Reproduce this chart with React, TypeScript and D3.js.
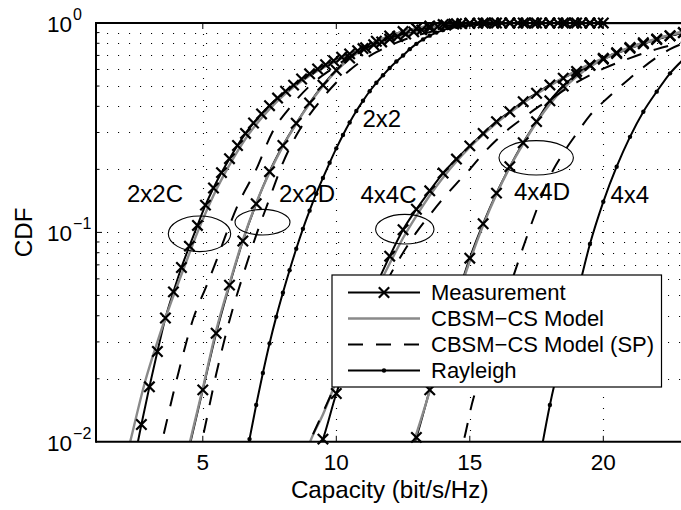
import React from "react";
import * as d3 from "d3";

type Pt = [number, number];

// Axes
const X_DOMAIN: [number, number] = [1, 23];
const Y_DOMAIN: [number, number] = [0.01, 1];
const X_TICKS = [5, 10, 15, 20];
const Y_MAJOR = [0.01, 0.1, 1];
const Y_EXP = ["\u22122", "\u22121", "0"];
const Y_MINOR = [0.02, 0.03, 0.04, 0.05, 0.06, 0.07, 0.08, 0.09, 0.2, 0.3, 0.4, 0.5, 0.6, 0.7, 0.8, 0.9];

const LEGEND_LABELS = ["Measurement", "CBSM\u2212CS Model", "CBSM\u2212CS Model (SP)", "Rayleigh"];

// Measured capacity CDFs (one marker per sample)
const meas2x2C: Pt[] = [
  [2.4, 0.0078], [2.7, 0.0121], [3.0, 0.0183], [3.3, 0.027], [3.6, 0.039], [3.9, 0.052], [4.2, 0.068],
  [4.5, 0.086], [4.8, 0.108], [5.1, 0.135], [5.4, 0.163], [5.7, 0.193], [6.0, 0.225], [6.3, 0.26],
  [6.6, 0.297], [6.9, 0.333], [7.2, 0.368], [7.5, 0.403], [7.8, 0.438], [8.1, 0.472], [8.4, 0.505],
  [8.7, 0.54], [9.0, 0.572], [9.3, 0.603], [9.6, 0.632], [9.9, 0.66], [10.2, 0.687], [10.5, 0.712],
  [10.8, 0.737], [11.1, 0.762], [11.4, 0.787], [11.7, 0.812], [12.0, 0.838], [12.3, 0.862], [12.6, 0.885],
  [12.9, 0.907], [13.2, 0.927], [13.5, 0.945], [13.8, 0.962], [14.1, 0.978], [14.4, 0.988], [14.7, 0.994],
  [15.0, 0.997], [15.3, 0.998], [15.6, 0.999], [15.9, 0.999], [16.2, 1], [16.5, 1], [16.8, 1], [17.1, 1],
  [17.4, 1], [17.7, 1], [18.0, 1], [18.3, 1], [18.6, 1], [18.9, 1], [19.2, 1], [19.5, 1], [19.8, 1],
];
const meas2x2D: Pt[] = [
  [4.5, 0.0095], [5.0, 0.0177], [5.5, 0.033], [6.0, 0.056], [6.5, 0.091], [7.0, 0.137], [7.5, 0.195],
  [8.0, 0.26], [8.5, 0.332], [9.0, 0.415], [9.5, 0.505], [10.0, 0.595], [10.5, 0.68], [11.0, 0.755],
  [11.5, 0.818], [12.0, 0.868], [12.5, 0.91], [13.0, 0.943], [13.5, 0.967], [14.0, 0.983], [14.5, 0.992],
  [15.0, 0.997], [15.5, 0.999], [16.0, 1], [16.5, 1], [17.0, 1], [17.5, 1], [18.0, 1], [18.5, 1],
  [19.0, 1], [19.5, 1], [20.0, 1],
];
const meas4x4C: Pt[] = [
  [9.0, 0.0072], [9.5, 0.0103], [10.0, 0.017], [10.5, 0.0257], [11.0, 0.04], [11.5, 0.056], [12.0, 0.077],
  [12.5, 0.103], [13.0, 0.129], [13.5, 0.158], [14.0, 0.192], [14.5, 0.224], [15.0, 0.259], [15.5, 0.297],
  [16.0, 0.338], [16.5, 0.377], [17.0, 0.421], [17.5, 0.462], [18.0, 0.506], [18.5, 0.545], [19.0, 0.587],
  [19.5, 0.628], [20.0, 0.672], [20.5, 0.715], [21.0, 0.757], [21.5, 0.795], [22.0, 0.833], [22.5, 0.868],
  [23.0, 0.9],
];
const meas4x4D: Pt[] = [
  [12.5, 0.0068], [13.0, 0.0105], [13.5, 0.0177], [14.0, 0.03], [14.5, 0.048], [15.0, 0.0753], [15.5, 0.11],
  [16.0, 0.154], [16.5, 0.206], [17.0, 0.268], [17.5, 0.338], [18.0, 0.425], [18.5, 0.5], [19.0, 0.568],
  [19.5, 0.628], [20.0, 0.678], [20.5, 0.722], [21.0, 0.765], [21.5, 0.805], [22.0, 0.84], [22.5, 0.87],
  [23.0, 0.9],
];

// CBSM-CS model CDFs
const model2x2C: Pt[] = [
  [2.0, 0.0072], [2.28, 0.01], [2.84, 0.0194], [3.3, 0.03], [3.8, 0.046], [4.3, 0.068], [4.8, 0.1],
  [5.4, 0.15], [6.0, 0.21], [6.6, 0.28], [7.2, 0.352], [7.8, 0.425], [8.4, 0.495], [9.0, 0.56], [9.6, 0.62],
  [10.2, 0.678], [10.8, 0.73], [11.4, 0.78], [12.0, 0.83], [12.6, 0.876], [13.2, 0.918], [13.8, 0.953],
  [14.4, 0.978], [15.0, 0.992], [15.6, 0.998], [16.5, 1], [23.0, 1],
];
const model2x2D: Pt[] = [
  [4.3, 0.0075], [4.52, 0.01], [5.0, 0.018], [5.5, 0.034], [6.0, 0.057], [6.5, 0.092], [7.0, 0.138],
  [7.5, 0.193], [8.0, 0.258], [8.5, 0.33], [9.0, 0.412], [9.5, 0.5], [10.0, 0.59], [10.5, 0.675],
  [11.0, 0.75], [11.5, 0.815], [12.0, 0.868], [12.5, 0.91], [13.0, 0.943], [13.5, 0.967], [14.0, 0.983],
  [14.5, 0.992], [15.0, 0.997], [16.0, 1], [23.0, 1],
];
const model4x4C: Pt[] = [
  [8.7, 0.0075], [9.02, 0.01], [9.5, 0.0135], [10.0, 0.0195], [10.5, 0.028], [11.0, 0.039], [11.5, 0.053],
  [12.0, 0.071], [12.5, 0.094], [13.0, 0.12], [13.5, 0.15], [14.0, 0.183], [14.5, 0.218], [15.0, 0.255],
  [15.5, 0.293], [16.0, 0.333], [16.5, 0.373], [17.0, 0.415], [17.5, 0.458], [18.0, 0.502], [18.5, 0.547],
  [19.0, 0.592], [19.5, 0.636], [20.0, 0.678], [20.5, 0.72], [21.0, 0.76], [21.5, 0.8], [22.0, 0.84],
  [22.5, 0.88], [23.0, 0.915],
];
const model4x4D: Pt[] = [
  [12.6, 0.0078], [12.9, 0.01], [13.5, 0.0175], [14.0, 0.029], [14.5, 0.047], [15.0, 0.073], [15.5, 0.108],
  [16.0, 0.152], [16.5, 0.205], [17.0, 0.265], [17.5, 0.335], [18.0, 0.41], [18.5, 0.485], [19.0, 0.555],
  [19.5, 0.618], [20.0, 0.672], [20.5, 0.72], [21.0, 0.765], [21.5, 0.805], [22.0, 0.842], [22.5, 0.875],
  [23.0, 0.905],
];

// CBSM-CS model, single-path (SP) variant
const sp2x2C: Pt[] = [
  [3.3, 0.0081], [3.47, 0.01], [4.03, 0.02], [4.65, 0.039], [5.15, 0.056], [5.52, 0.074], [5.9, 0.1],
  [6.3, 0.134], [7.0, 0.2], [7.6, 0.3], [8.3, 0.4], [9.0, 0.5], [9.8, 0.6], [10.6, 0.7], [11.5, 0.8],
  [12.4, 0.88], [13.3, 0.94], [14.2, 0.975], [15.0, 0.99], [16.0, 0.998], [17.0, 1], [23.0, 1],
];
const sp2x2D: Pt[] = [
  [4.8, 0.0082], [4.96, 0.01], [5.5, 0.021], [6.0, 0.038], [6.5, 0.062], [7.0, 0.097], [7.5, 0.145],
  [8.0, 0.215], [8.5, 0.29], [9.0, 0.365], [9.5, 0.44], [10.0, 0.52], [10.5, 0.595], [11.0, 0.665],
  [11.5, 0.725], [12.0, 0.78], [13.0, 0.87], [14.0, 0.935], [15.0, 0.975], [16.0, 0.993], [17.0, 1],
  [23.0, 1],
];
const sp4x4C: Pt[] = [
  [8.7, 0.0082], [9.0, 0.01], [9.5, 0.0138], [10.0, 0.019], [10.5, 0.0255], [11.0, 0.034], [11.5, 0.046],
  [12.0, 0.062], [12.5, 0.08], [13.0, 0.1], [13.5, 0.121], [14.0, 0.145], [14.5, 0.171], [15.0, 0.2],
  [15.5, 0.238], [16.0, 0.276], [16.5, 0.315], [17.0, 0.352], [17.5, 0.392], [18.0, 0.43], [18.5, 0.475],
  [19.0, 0.52], [20.0, 0.605], [21.0, 0.68], [22.0, 0.75], [23.0, 0.81],
];
const sp4x4D: Pt[] = [
  [14.5, 0.0078], [14.76, 0.01], [15.14, 0.0162], [15.5, 0.021], [16.0, 0.035], [16.5, 0.055],
  [17.0, 0.085], [17.5, 0.128], [18.0, 0.185], [18.5, 0.239], [19.0, 0.296], [19.5, 0.362], [20.0, 0.42],
  [20.5, 0.48], [21.0, 0.545], [21.5, 0.615], [22.0, 0.685], [22.5, 0.75], [23.0, 0.8],
];

// i.i.d. Rayleigh reference CDFs
const ray2x2: Pt[] = [
  [6.5, 0.0072], [6.75, 0.0103], [7.0, 0.015], [7.25, 0.0213], [7.5, 0.0295], [7.75, 0.0395], [8.0, 0.0515],
  [8.25, 0.066], [8.5, 0.0835], [8.75, 0.104], [9.0, 0.127], [9.25, 0.153], [9.5, 0.182], [9.75, 0.215],
  [10.0, 0.252], [10.25, 0.292], [10.5, 0.335], [10.75, 0.38], [11.0, 0.425], [11.25, 0.472], [11.5, 0.518],
  [11.75, 0.563], [12.0, 0.61], [12.25, 0.655], [12.5, 0.7], [12.75, 0.75], [13.0, 0.795], [13.25, 0.835],
  [13.5, 0.87], [13.75, 0.9], [14.0, 0.925], [14.25, 0.945], [14.5, 0.96], [14.75, 0.972], [15.0, 0.981],
  [15.25, 0.988], [15.5, 0.993], [15.75, 0.996], [16.0, 0.998],
];
const ray4x4: Pt[] = [
  [17.5, 0.0068], [18.0, 0.015], [18.5, 0.028], [19.0, 0.049], [19.5, 0.088], [20.0, 0.14], [20.5, 0.206],
  [21.0, 0.286], [21.5, 0.377], [22.0, 0.47], [22.5, 0.575], [23.0, 0.67],
];

// Scenario labels
const annotLabels = ["2x2C", "2x2D", "2x2", "4x4C", "4x4D", "4x4"];

const FONT = "'Liberation Sans', Arial, Helvetica, sans-serif";
const GRAY = "#8a8a8a";

const xs = d3.scaleLinear().domain(X_DOMAIN).range([96, 683.4]);
const ys = d3.scaleLog().domain(Y_DOMAIN).range([441.8, 23]);
const lineGen = d3
  .line<Pt>()
  .x((d) => xs(d[0]))
  .y((d) => ys(d[1]))
  .curve(d3.curveMonotoneX);

const inside = (d: Pt) => d[1] >= Y_DOMAIN[0] && d[1] <= Y_DOMAIN[1] && d[0] >= X_DOMAIN[0] && d[0] <= X_DOMAIN[1];

function Cross({ cx, cy, h = 5.2 }: { cx: number; cy: number; h?: number }) {
  return (
    <path
      d={`M${cx - h},${cy - h}L${cx + h},${cy + h}M${cx - h},${cy + h}L${cx + h},${cy - h}`}
      stroke="#000"
      strokeWidth={2.2}
      fill="none"
    />
  );
}

export default function App() {
  const [x0, x1] = xs.range();
  const [yb, yt] = ys.range();

  const measSeries = [meas2x2C, meas2x2D, meas4x4C, meas4x4D];
  const modelSeries = [model2x2C, model2x2D, model4x4C, model4x4D];
  const spSeries = [sp2x2C, sp2x2D, sp4x4C, sp4x4D];
  const raySeries = [ray2x2, ray4x4];

  // annotation text anchors and the ellipses grouping each set of curves
  const labelPos: Pt[] = [[127, 201.7], [279, 201.7], [362.5, 126.7], [360.5, 203.3], [514, 200], [610.5, 203.3]];
  const ellipses = [
    { cx: 199.5, cy: 233.8, rx: 31.2, ry: 17.8 },
    { cx: 262.5, cy: 222.2, rx: 27.5, ry: 12.8 },
    { cx: 404.8, cy: 229.2, rx: 29.2, ry: 14.8 },
    { cx: 536.2, cy: 157.8, rx: 37.2, ry: 17.2 },
  ];

  const legend = { x: 332, y: 275, w: 329.5, h: 112 };
  const rowY = [292.5, 318.5, 344.5, 370.5];
  const sx0 = 348, sx1 = 420;

  return (
    <svg
      width={681}
      height={510}
      style={{ position: "absolute", left: 0, top: 0, display: "block" }}
      fontFamily={FONT}
    >
      <rect x={0} y={0} width={681} height={510} fill="#fff" />
      <defs>
        <clipPath id="plotClip">
          <rect x={x0} y={yt} width={x1 - x0} height={yb - yt} />
        </clipPath>
      </defs>

      {/* grid */}
      <g stroke="#000" strokeWidth={1.1} strokeDasharray="1.1 9.9" fill="none">
        {[...Y_MINOR, 0.1].map((v) => (
          <line key={`gy${v}`} x1={x0} x2={x1} y1={Math.round(ys(v)) + 0.5} y2={Math.round(ys(v)) + 0.5} />
        ))}
        {X_TICKS.map((v) => (
          <line key={`gx${v}`} x1={Math.round(xs(v)) + 0.5} x2={Math.round(xs(v)) + 0.5} y1={yt} y2={yb} />
        ))}
      </g>

      {/* curves */}
      <g clipPath="url(#plotClip)" fill="none" strokeLinejoin="round">
        {measSeries.map((s, i) => (
          <path key={`m${i}`} d={lineGen(s) || ""} stroke="#000" strokeWidth={2} />
        ))}
        {modelSeries.map((s, i) => (
          <path key={`g${i}`} d={lineGen(s) || ""} stroke={GRAY} strokeWidth={2.4} />
        ))}
        {spSeries.map((s, i) => (
          <path key={`s${i}`} d={lineGen(s) || ""} stroke="#000" strokeWidth={2} strokeDasharray="15 13" />
        ))}
        {raySeries.map((s, i) => (
          <path key={`r${i}`} d={lineGen(s) || ""} stroke="#000" strokeWidth={2} />
        ))}
      </g>

      {/* markers */}
      <g>
        {measSeries.map((s, i) =>
          s.filter(inside).map((d, j) => <Cross key={`mx${i}-${j}`} cx={xs(d[0])} cy={ys(d[1])} />)
        )}
        {raySeries.map((s, i) =>
          s.filter(inside).map((d, j) => <circle key={`rd${i}-${j}`} cx={xs(d[0])} cy={ys(d[1])} r={2.2} fill="#000" />)
        )}
      </g>

      {/* axes box and ticks */}
      <g stroke="#000" strokeWidth={2} fill="none">
        <line x1={x0} x2={x0} y1={yt - 1} y2={yb + 1} />
        <line x1={x0} x2={x1} y1={yb} y2={yb} />
        <line x1={x0} x2={x1} y1={yt} y2={yt} />
        {X_TICKS.map((v) => (
          <g key={`xt${v}`}>
            <line x1={xs(v)} x2={xs(v)} y1={yb} y2={yb - 6} strokeWidth={1} />
            <line x1={xs(v)} x2={xs(v)} y1={yt} y2={yt + 6} strokeWidth={1} />
          </g>
        ))}
        {Y_MINOR.map((v) => (
          <line key={`ym${v}`} x1={x0} x2={x0 + 3.5} y1={ys(v)} y2={ys(v)} strokeWidth={1} />
        ))}
        <line x1={x0} x2={x0 + 6} y1={ys(0.1)} y2={ys(0.1)} strokeWidth={1} />
      </g>

      {/* tick labels */}
      <g fontSize={22.5} fill="#000">
        {X_TICKS.map((v) => (
          <text key={`xl${v}`} x={xs(v)} y={470} textAnchor="middle">
            {v}
          </text>
        ))}
        {Y_MAJOR.map((v, i) => (
          <text key={`yl${v}`} x={47} y={ys(v) + 8.8}>
            10
            <tspan fontSize={16} dx={1} dy={-12}>
              {Y_EXP[i]}
            </tspan>
          </text>
        ))}
      </g>

      {/* axis labels */}
      <text x={(x0 + x1) / 2} y={498} textAnchor="middle" fontSize={24.2}>
        Capacity (bit/s/Hz)
      </text>
      <text transform={`translate(32,${(yt + yb) / 2}) rotate(-90)`} textAnchor="middle" fontSize={24.2}>
        CDF
      </text>

      {/* scenario annotations */}
      <g fontSize={24} fill="#000">
        {annotLabels.map((t, i) => (
          <text key={t} x={labelPos[i][0]} y={labelPos[i][1]}>
            {t}
          </text>
        ))}
      </g>
      <g fill="none" stroke="#000" strokeWidth={1.1}>
        {ellipses.map((e, i) => (
          <ellipse key={i} cx={e.cx} cy={e.cy} rx={e.rx} ry={e.ry} />
        ))}
      </g>

      {/* legend */}
      <g>
        <rect x={legend.x} y={legend.y} width={legend.w} height={legend.h} fill="#fff" stroke="#000" strokeWidth={1.2} />
        <line x1={sx0} x2={sx1} y1={rowY[0]} y2={rowY[0]} stroke="#000" strokeWidth={2} />
        <Cross cx={(sx0 + sx1) / 2} cy={rowY[0]} />
        <line x1={sx0} x2={sx1} y1={rowY[1]} y2={rowY[1]} stroke={GRAY} strokeWidth={2.4} />
        <line x1={sx0} x2={sx1} y1={rowY[2]} y2={rowY[2]} stroke="#000" strokeWidth={2} strokeDasharray="15 13" />
        <line x1={sx0} x2={sx1} y1={rowY[3]} y2={rowY[3]} stroke="#000" strokeWidth={2} />
        <circle cx={(sx0 + sx1) / 2} cy={rowY[3]} r={2.2} fill="#000" />
        {LEGEND_LABELS.map((t, i) => (
          <text key={t} x={431} y={rowY[i] + 7.8} fontSize={22}>
            {t}
          </text>
        ))}
      </g>
    </svg>
  );
}
